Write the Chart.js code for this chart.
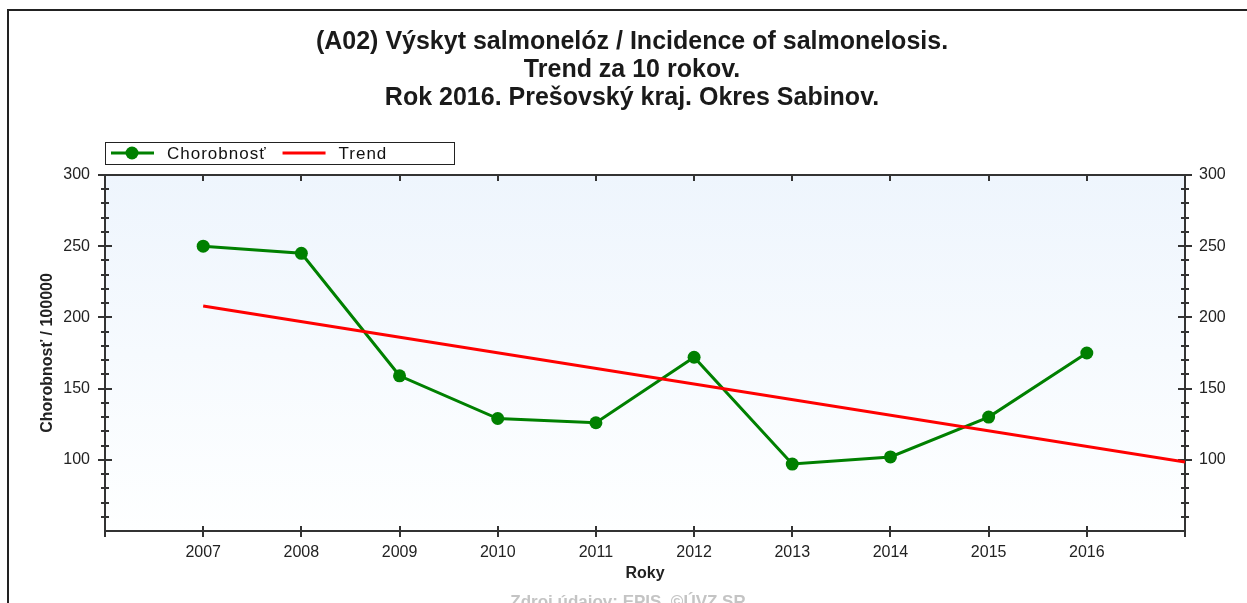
<!DOCTYPE html>
<html>
<head>
<meta charset="utf-8">
<script src="https://cdn.jsdelivr.net/npm/chart.js@4.4.0/dist/chart.umd.min.js"></script>
<style>
  html, body { margin: 0; padding: 0; background: #fff; }
  canvas { display: block; }
</style>
</head>
<body>
<canvas id="trendChart" width="1247" height="603"></canvas>
<script>
// Chart texts
const titleLines = [
    '(A02) Výskyt salmonelóz / Incidence of salmonelosis.',
    'Trend za 10 rokov.',
    'Rok 2016. Prešovský kraj. Okres Sabinov.'
];
const seriesNames = ['Chorobnosť', 'Trend'];
const xTitle = 'Roky';
const yTitle = 'Chorobnosť / 100000';
const sourceText = 'Zdroj údajov: EPIS, ©ÚVZ SR';

// Values
const years = [2007, 2008, 2009, 2010, 2011, 2012, 2013, 2014, 2015, 2016];
const incidence = [250, 245, 159, 129, 126, 172, 97, 102, 130, 175];
const trendYears = [2007, 2017];
const trendValues = [208, 98.5];

// Axis ranges
const yearRange = [2006, 2017];
const valueRange = [50, 300];

const green = '#008000';
const red = '#ff0000';
const axisColor = '#333333';

Chart.defaults.font.family = '"Liberation Sans", Arial, sans-serif';
Chart.defaults.color = '#222222';

// Light blue gradient behind the plot plus the cut frame of the original image
const plotBackground = {
    id: 'plotBackground',
    beforeDraw(chart) {
        const {ctx, chartArea: a} = chart;
        ctx.save();
        const g = ctx.createLinearGradient(0, a.top, 0, a.bottom);
        g.addColorStop(0, 'rgb(238,245,253)');
        g.addColorStop(1, 'rgb(254,255,255)');
        ctx.fillStyle = g;
        ctx.fillRect(a.left, a.top, a.right - a.left, a.bottom - a.top);
        ctx.strokeStyle = '#222';
        ctx.lineWidth = 2;
        ctx.beginPath();
        ctx.moveTo(8, chart.height + 5);
        ctx.lineTo(8, 10);
        ctx.lineTo(chart.width + 5, 10);
        ctx.stroke();
        ctx.restore();
    }
};

// Major / minor tick marks crossing the axis lines
const crossTicks = {
    id: 'crossTicks',
    beforeDatasetsDraw(chart) {
        const {ctx, chartArea: a, scales} = chart;
        ctx.save();
        ctx.strokeStyle = axisColor;
        ctx.lineWidth = 2;
        ctx.beginPath();
        scales.y.ticks.forEach(t => {
            if (t.value <= scales.y.min) return;
            const py = Math.round(scales.y.getPixelForValue(t.value));
            const len = t.value % 50 === 0 ? 7 : 4;
            ctx.moveTo(a.left - len, py);
            ctx.lineTo(a.left + len, py);
        });
        scales.y2.ticks.forEach(t => {
            if (t.value <= scales.y2.min) return;
            const py = Math.round(scales.y2.getPixelForValue(t.value));
            const len = t.value % 50 === 0 ? 7 : 4;
            ctx.moveTo(a.right - len, py);
            ctx.lineTo(a.right + len, py);
        });
        scales.x.ticks.forEach(t => {
            const px = Math.round(scales.x.getPixelForValue(t.value));
            ctx.moveTo(px, a.bottom - 5);
            ctx.lineTo(px, a.bottom + 6);
            if (t.value > scales.x.min && t.value < scales.x.max) {
                ctx.moveTo(px, a.top);
                ctx.lineTo(px, a.top + 6);
            }
        });
        ctx.stroke();
        ctx.restore();
    }
};

// Boxed legend above the plot and the source line at the bottom
const boxedLegend = {
    id: 'boxedLegend',
    afterDraw(chart) {
        const {ctx, chartArea: a} = chart;
        const top = a.top - 33;
        const h = 22;
        const cy = top + h / 2;
        ctx.save();
        ctx.font = '17px "Liberation Sans", Arial, sans-serif';
        ctx.letterSpacing = '1px';
        ctx.textBaseline = 'middle';
        ctx.fillStyle = '#fff';
        ctx.fillRect(a.left, top, 349, h);
        ctx.strokeStyle = '#222';
        ctx.lineWidth = 1;
        ctx.strokeRect(a.left + 0.5, top + 0.5, 349, h);

        let x = a.left + 6;
        chart.data.datasets.forEach(ds => {
            ctx.strokeStyle = ds.borderColor;
            ctx.lineWidth = 3;
            ctx.beginPath();
            ctx.moveTo(x, cy);
            ctx.lineTo(x + 43, cy);
            ctx.stroke();
            if (ds.pointRadius > 0) {
                ctx.fillStyle = ds.borderColor;
                ctx.beginPath();
                ctx.arc(x + 21, cy, ds.pointRadius, 0, Math.PI * 2);
                ctx.fill();
            }
            ctx.fillStyle = '#111';
            ctx.fillText(ds.label, x + 56, cy + 1);
            x += 56 + ctx.measureText(ds.label).width + 16;
        });

        ctx.letterSpacing = '0px';
        ctx.font = 'bold 17px "Liberation Sans", Arial, sans-serif';
        ctx.fillStyle = '#c4c4c4';
        ctx.textAlign = 'center';
        ctx.textBaseline = 'alphabetic';
        ctx.fillText(sourceText, 628, 607);
        ctx.restore();
    }
};

const tickFont = {size: 16};

const ctx = document.getElementById('trendChart').getContext('2d');
const trendChart = new Chart(ctx, {
    type: 'line',
    data: {
        datasets: [{
            label: seriesNames[0],
            data: years.map((yr, i) => ({x: yr, y: incidence[i]})),
            borderColor: green,
            backgroundColor: green,
            borderWidth: 3,
            pointRadius: 6.5,
            pointBorderWidth: 0,
            pointBackgroundColor: green,
            tension: 0,
            order: 1
        }, {
            label: seriesNames[1],
            data: trendYears.map((yr, i) => ({x: yr, y: trendValues[i]})),
            borderColor: red,
            backgroundColor: red,
            borderWidth: 3,
            pointRadius: 0,
            tension: 0,
            order: 0
        }]
    },
    options: {
        responsive: false,
        animation: false,
        events: [],
        layout: {padding: {left: 17, top: 0, right: 0, bottom: 0}},
        plugins: {
            legend: {display: false},
            tooltip: {enabled: false},
            title: {
                display: true,
                text: titleLines,
                color: '#1a1a1a',
                font: {size: 25, weight: 'bold', lineHeight: 28 / 25},
                padding: {top: 28, bottom: 0}
            }
        },
        scales: {
            x: {
                type: 'linear',
                position: 'bottom',
                min: yearRange[0],
                max: yearRange[1],
                grid: {display: false, drawTicks: false},
                border: {display: true, color: axisColor, width: 2},
                ticks: {
                    stepSize: 1,
                    autoSkip: false,
                    maxRotation: 0,
                    padding: 12,
                    font: tickFont,
                    callback: v => (v > yearRange[0] && v < yearRange[1]) ? String(v) : ''
                },
                title: {
                    display: true,
                    text: xTitle,
                    font: {size: 16, weight: 'bold'},
                    padding: {top: 0, bottom: 20}
                },
                afterFit: s => { s.height = 72; }
            },
            x2: {
                type: 'linear',
                position: 'top',
                min: yearRange[0],
                max: yearRange[1],
                grid: {display: false, drawTicks: false},
                border: {display: true, color: axisColor, width: 2},
                ticks: {display: false, stepSize: 1},
                afterFit: s => { s.height = 63; }
            },
            y: {
                position: 'left',
                min: valueRange[0],
                max: valueRange[1],
                grid: {display: false, drawTicks: false},
                border: {display: true, color: axisColor, width: 2},
                ticks: {
                    stepSize: 10,
                    autoSkip: false,
                    padding: 15,
                    font: tickFont,
                    callback: v => (v % 50 === 0 && v > valueRange[0]) ? String(v) : ''
                },
                title: {
                    display: true,
                    text: yTitle,
                    font: {size: 16, weight: 'bold'},
                    padding: {top: 21, bottom: 0}
                },
                afterFit: s => { s.width = 88; }
            },
            y2: {
                position: 'right',
                min: valueRange[0],
                max: valueRange[1],
                grid: {display: false, drawTicks: false},
                border: {display: true, color: axisColor, width: 2},
                ticks: {
                    stepSize: 10,
                    autoSkip: false,
                    padding: 14,
                    font: tickFont,
                    callback: v => (v % 50 === 0 && v > valueRange[0]) ? String(v) : ''
                },
                afterFit: s => { s.width = 62; }
            }
        }
    },
    plugins: [plotBackground, crossTicks, boxedLegend]
});
</script>
</body>
</html>
